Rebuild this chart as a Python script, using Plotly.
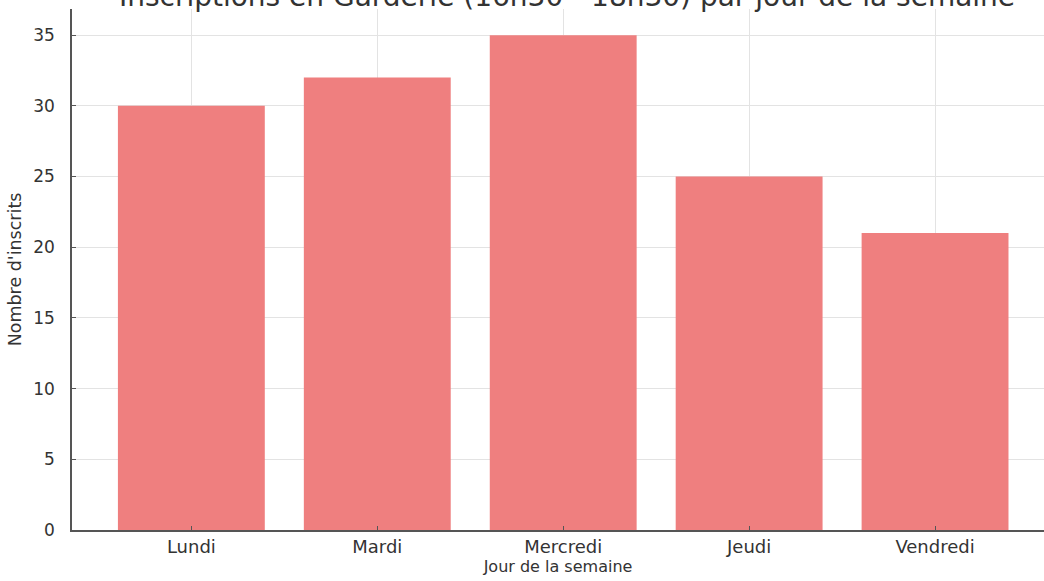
import plotly.graph_objects as go

jours = ["Lundi", "Mardi", "Mercredi", "Jeudi", "Vendredi"]
inscrits = [30, 32, 35, 25, 21]
y_ticks = [0, 5, 10, 15, 20, 25, 30, 35]

W, H = 1044, 581
fig = go.Figure()
fig.add_trace(go.Bar(
    x=list(range(len(jours))), y=inscrits, width=0.79,
    marker=dict(color="rgb(239,127,127)", line=dict(width=0)),
))

font = "DejaVu Sans, sans-serif"
fig.update_layout(
    width=W, height=H,
    margin=dict(l=72, r=0, t=9, b=51),
    paper_bgcolor="white", plot_bgcolor="white",
    showlegend=False,
    font=dict(family=font, color="#333333", size=17),
    title=dict(
        text="Inscriptions en Garderie (16h30 - 18h30) par jour de la semaine",
        x=567 / W, xref="container", xanchor="center",
        y=1 - 6 / H, yref="container", yanchor="bottom",
        font=dict(size=28, color="#333333", family=font),
    ),
    xaxis=dict(
        range=[-0.642, 4.586],
        tickmode="array", tickvals=list(range(len(jours))), ticktext=jours,
        showgrid=True, gridcolor="#e3e3e3", gridwidth=1,
        showline=True, linecolor="#555555", linewidth=1.5,
        ticks="inside", ticklen=4, tickcolor="#555555",
        tickfont=dict(size=18, color="#333333"),
        title=dict(text="Jour de la semaine", font=dict(size=16, color="#333333"), standoff=1),
        zeroline=False,
    ),
    yaxis=dict(
        range=[0, 36.85],
        tickmode="array", tickvals=y_ticks,
        showgrid=True, gridcolor="#e3e3e3", gridwidth=1,
        showline=True, linecolor="#555555", linewidth=1.5,
        ticks="inside", ticklen=4, tickcolor="#555555",
        tickfont=dict(size=17, color="#333333"),
        ticklabelstandoff=12,
        title=dict(text="Nombre d'inscrits", font=dict(size=17.5, color="#333333"), standoff=7),
        zeroline=False,
    ),
)
fig.write_html(
    "out.html",
    config={"displayModeBar": False},
    post_script="document.body.style.margin='0';document.body.style.overflow='hidden';",
)
